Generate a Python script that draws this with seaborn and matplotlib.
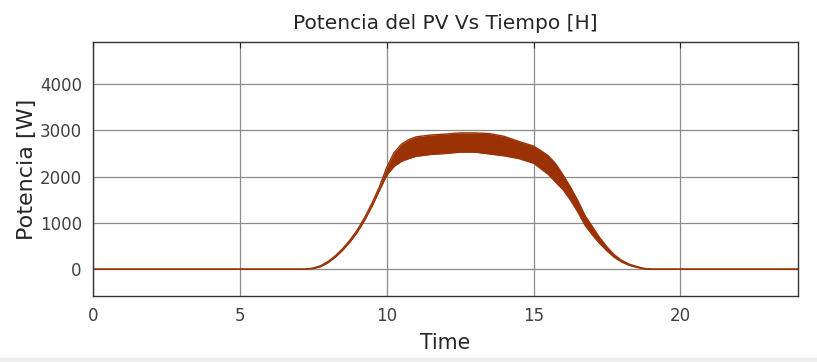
import numpy as np
import pandas as pd
import matplotlib
matplotlib.use("Agg")
import matplotlib.pyplot as plt
import seaborn as sns

# PV power envelope over the day: hour, lower and upper bound of the ripple band [W]
hours = [0, 7.25, 7.5, 7.75, 8.0, 8.25, 8.5, 8.75, 9.0, 9.25, 9.5, 9.75,
         10.0, 10.25, 10.5, 10.75, 11.0, 11.5, 12.0, 12.5, 13.0, 13.5, 14.0,
         14.5, 15.0, 15.25, 15.5, 15.75, 16.0, 16.25, 16.5, 16.75, 17.0,
         17.25, 17.5, 17.75, 18.0, 18.25, 18.5, 18.75, 19.0, 24.0]
p_low = [0, 0, 15, 55, 140, 260, 410, 590, 800, 1060, 1360, 1700,
         2030, 2220, 2330, 2390, 2440, 2480, 2500, 2530, 2530, 2490, 2450,
         2390, 2290, 2170, 2050, 1880, 1720, 1500, 1240, 950, 740,
         555, 395, 255, 155, 85, 40, 10, 0, 0]
p_high = [0, 0, 25, 75, 165, 290, 445, 630, 850, 1120, 1430, 1780,
          2200, 2520, 2700, 2800, 2860, 2900, 2920, 2945, 2945, 2930, 2870,
          2760, 2660, 2560, 2450, 2280, 2040, 1780, 1490, 1160, 920,
          680, 480, 310, 190, 110, 60, 18, 0, 0]

x_ticks = [0, 5, 10, 15, 20]
y_ticks = [0, 1000, 2000, 3000, 4000]

df = pd.DataFrame({"t": hours, "low": p_low, "high": p_high})

sns.set_style("white")
plt.rcParams["font.family"] = ["DejaVu Sans"]
txt = "#262626"
band = "#9a3206"

fig = plt.figure(figsize=(8.17, 3.62), dpi=100)
ax = fig.add_axes([0.1138, 0.1823, 0.8629, 0.7017])

ax.fill_between(df["t"], df["low"], df["high"], color=band, linewidth=0)
sns.lineplot(data=df, x="t", y="low", ax=ax, color=band, linewidth=1.0)
sns.lineplot(data=df, x="t", y="high", ax=ax, color=band, linewidth=1.0)

ax.set_xlim(0, 24)
ax.set_ylim(-580, 4910)
ax.set_xticks(x_ticks)
ax.set_yticks(y_ticks)
ax.grid(True, color="#8c8c8c", linewidth=0.9)
ax.set_axisbelow(True)

ax.tick_params(direction="in", top=True, right=True, length=4, width=0.8,
               labelsize=12, colors=txt, labelcolor="#404040", pad=8)
for s in ax.spines.values():
    s.set_color("#333333")
    s.set_linewidth(1.0)

ax.set_title("Potencia del PV Vs Tiempo [H]", fontsize=14.5, color=txt, pad=9)
ax.set_xlabel("Time", fontsize=14.8, color=txt, labelpad=6)
ax.set_ylabel("Potencia [W]", fontsize=16, color=txt, labelpad=2)

# light strip along the bottom edge of the figure
fig.patches.append(plt.Rectangle((0, 0), 1, 0.01, transform=fig.transFigure,
                                 color="#eeeeee", zorder=-1))

fig.savefig("out.png", dpi=100)
